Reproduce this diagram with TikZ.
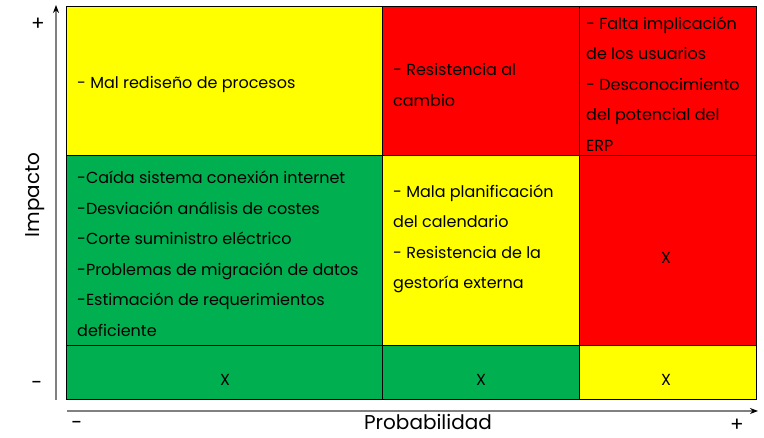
\documentclass[tikz,border=0pt]{standalone}
\usepackage{fontspec}
\setmainfont{Poppins}
\usetikzlibrary{arrows.meta}
\definecolor{riskyellow}{HTML}{FFFF00}
\definecolor{riskred}{HTML}{FF0000}
\definecolor{riskgreen}{HTML}{00B050}
\definecolor{axisgray}{HTML}{808080}
\begin{document}
\begin{tikzpicture}[x=1pt, y=-1pt,
    celltext/.style={anchor=west, align=left, inner sep=0pt, font=\fontsize{16}{30.5}\selectfont},
    xcell/.style={inner sep=0pt, font=\fontsize{16}{18}\selectfont},
    axislabel/.style={inner sep=0pt, font=\fontsize{20}{22}\selectfont},
    axisline/.style={axisgray, line width=1.3pt, -{Stealth[black, length=8pt, width=6pt]}}]
    \useasboundingbox (0,0) rectangle (764,438);

    % cells
    \fill[riskyellow] (66,6) rectangle (382,155);
    \fill[riskred] (382,6) rectangle (756,155);
    \fill[riskgreen] (66,155) rectangle (382,345);
    \fill[riskyellow] (382,155) rectangle (579,345);
    \fill[riskred] (579,155) rectangle (756,345);
    \fill[riskgreen] (66,345) rectangle (579,399);
    \fill[riskyellow] (579,345) rectangle (756,399);
    \draw[line width=0.9pt] (66,6) rectangle (756,399);
    \draw[line width=0.9pt] (66,155) -- (756,155) (66,345) -- (756,345);
    \draw[line width=0.9pt] (382,6) -- (382,399) (579,6) -- (579,399);

    \node[celltext] (c11) at (77,84) {- Mal rediseño de procesos};
    \node[celltext] (c12) at (393,85) {- Resistencia al\\cambio};
    \begin{scope}
        \clip (579,6) rectangle (756,155);
        \node[celltext] (c13) at (586,84) {- Falta implicación\\de los usuarios\\- Desconocimiento\\del potencial del\\ERP};
    \end{scope}
    \node[celltext] (c21) at (77,254) {-Caída sistema conexión internet\\-Desviación análisis de costes\\-Corte suministro eléctrico\\-Problemas de migración de datos\\-Estimación de requerimientos\\deficiente};
    \node[celltext] (c22) at (393,239) {- Mala planificación\\del calendario\\- Resistencia de la\\gestoría externa};
    \node[xcell] (c23) at (666,258) {X};
    \node[xcell] (c31) at (225,380) {X};
    \node[xcell] (c32) at (481,380) {X};
    \node[xcell] (c33) at (666,380) {X};

    % axes
    \coordinate (ylow) at (56,400);
    \coordinate (yhigh) at (56,5);
    \coordinate (xlow) at (67,411);
    \coordinate (xhigh) at (758,411);
    \draw[axisline] (ylow) -- (yhigh);
    \draw[axisline] (xlow) -- (xhigh);
    \node[axislabel] (yplus) at (38,24) {+};
    \node[axislabel] (yminus) at (37,385) {-};
    \node[axislabel, rotate=90] (impacto) at (35,195) {Impacto};
    \node[axislabel] (xminus) at (77,425) {-};
    \node[axislabel, anchor=base] (probab) at (428,430) {Probabilidad};
    \node[axislabel] (xplus) at (737,425) {+};
\end{tikzpicture}
\end{document}
